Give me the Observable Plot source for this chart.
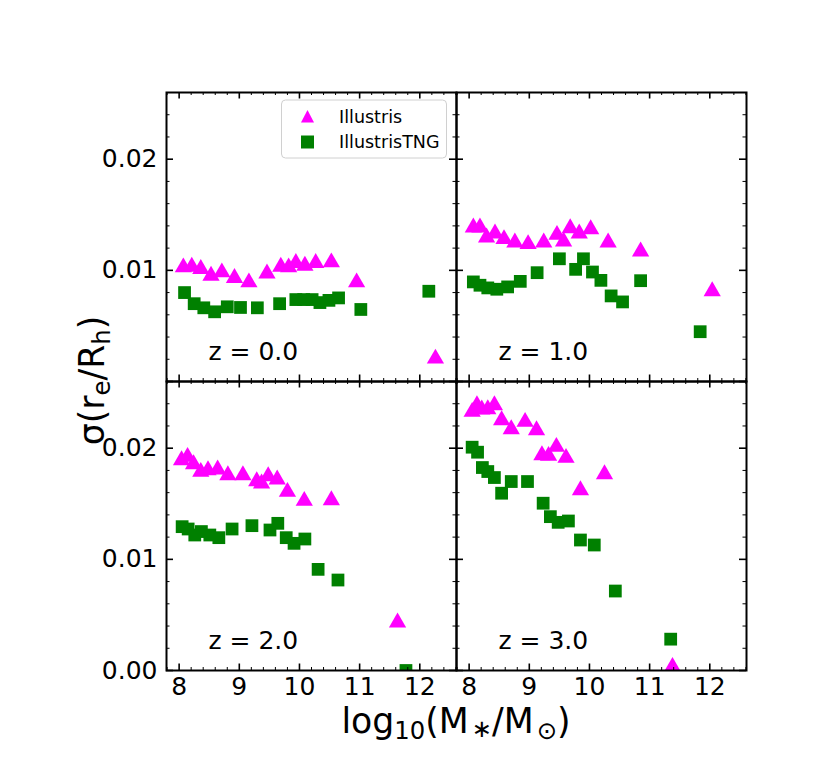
<!DOCTYPE html>
<html><head><meta charset="utf-8">
<script src="https://cdn.jsdelivr.net/npm/d3@7"></script>
<script src="https://cdn.jsdelivr.net/npm/@observablehq/plot@0.6"></script>
<style>
body{margin:0;background:#fff;}
#chart svg{font-family:"DejaVu Sans";background:#fff;overflow:visible;}
</style>
</head><body><div id="chart"></div>
<script>
// ---- data ----
const redshifts = ["0.0", "1.0", "2.0", "3.0"];
const seriesNames = ["Illustris", "IllustrisTNG"];
const seriesColors = ["#ff00ff", "#008000"];
const illustrisX = [
  [8.07,8.21,8.36,8.53,8.71,8.92,9.16,9.46,9.69,9.82,9.94,10.09,10.27,10.53,10.95,12.26],
  [8.07,8.18,8.29,8.43,8.58,8.76,8.98,9.24,9.46,9.57,9.68,9.83,10.02,10.31,10.85,12.04],
  [8.04,8.14,8.24,8.36,8.48,8.64,8.81,9.06,9.29,9.37,9.48,9.63,9.80,10.08,10.53,11.63],
  [8.05,8.13,8.21,8.31,8.42,8.54,8.70,8.93,9.12,9.21,9.32,9.45,9.61,9.85,10.25,11.38]
];
const illustrisY = [
  [0.01045,0.0105,0.0103,0.0097,0.0100,0.0095,0.0091,0.0099,0.0105,0.01045,0.01084,0.0106,0.01084,0.0109,0.0091,0.00224],
  [0.01403,0.01403,0.01313,0.01349,0.01299,0.01269,0.01254,0.01269,0.01337,0.01278,0.01397,0.01349,0.01388,0.01269,0.01188,0.0083],
  [0.0191,0.0194,0.01874,0.01805,0.0182,0.01826,0.01775,0.01775,0.01721,0.0170,0.01766,0.01736,0.01625,0.01544,0.0155,0.0045],
  [0.02345,0.02405,0.02366,0.02369,0.02405,0.0227,0.02189,0.02255,0.0218,0.01955,0.01949,0.0203,0.01931,0.0164,0.01784,0.0005]
];
const tngX = [
  [8.09,8.25,8.41,8.59,8.80,9.02,9.30,9.67,9.94,10.07,10.21,10.34,10.49,10.65,11.02,12.15],
  [8.07,8.18,8.31,8.46,8.64,8.85,9.13,9.50,9.77,9.90,10.05,10.19,10.36,10.55,10.85,11.84],
  [8.05,8.15,8.26,8.37,8.51,8.66,8.88,9.21,9.51,9.64,9.78,9.91,10.09,10.31,10.64,11.77],
  [8.05,8.14,8.22,8.31,8.42,8.54,8.70,8.97,9.23,9.35,9.48,9.65,9.85,10.08,10.43,11.35]
];
const tngY = [
  [0.0080,0.0070,0.00663,0.00627,0.00672,0.00666,0.00663,0.0070,0.00737,0.00737,0.00737,0.0071,0.0073,0.00752,0.00648,0.00812],
  [0.00896,0.00866,0.00842,0.0083,0.00851,0.00901,0.00979,0.01104,0.01009,0.01104,0.00985,0.0091,0.0077,0.00716,0.00907,0.00448],
  [0.01294,0.01273,0.01219,0.0125,0.01219,0.01195,0.01273,0.01303,0.01264,0.01324,0.01195,0.01144,0.01183,0.0091,0.00814,0.0],
  [0.02009,0.01964,0.01826,0.0179,0.01736,0.01595,0.017,0.017,0.01505,0.01384,0.01333,0.01345,0.01174,0.01129,0.00715,0.00282]
];
const xTicks = [8, 9, 10, 11, 12];
const yTicks = [0.01, 0.02];
const yTicksBottomOnly = [0.00];
const xDomain = [7.79, 12.61];
const yDomain = [0, 0.026];

// ---- layout ----
const W = 830, H = 767, mL = 166, mR = 84, mT = 91, mB = 97;
const fw = (W - mL - mR) / 2, fh = (H - mT - mB) / 2;
const tickFont = 25;

const rows = [];
redshifts.forEach((z, i) => {
  const col = i % 2, row = Math.floor(i / 2);
  illustrisX[i].forEach((x, j) => rows.push({series: seriesNames[0], col, row, x, y: illustrisY[i][j]}));
  tngX[i].forEach((x, j) => rows.push({series: seriesNames[1], col, row, x, y: tngY[i][j]}));
});
const panels = redshifts.map((z, i) => ({z, col: i % 2, row: Math.floor(i / 2)}));

const xScaleTicks = d3.scaleLinear().domain(xDomain);
const minorX = xScaleTicks.ticks(25).filter(v => !xTicks.includes(v));
const yScaleTicks = d3.scaleLinear().domain(yDomain);
const majorYAll = yScaleTicks.ticks(3);
const minorY = yScaleTicks.ticks(13).filter(v => !majorYAll.some(m => Math.abs(m - v) < 1e-9));

const fmtY = d3.format(".2f");

const chart = Plot.plot({
  width: W, height: H,
  marginLeft: mL, marginRight: mR, marginTop: mT, marginBottom: mB,
  style: {fontFamily: "DejaVu Sans", background: "#fff", color: "#000"},
  x: {domain: xDomain},
  y: {domain: yDomain},
  fx: {domain: [0, 1], padding: 0, axis: null},
  fy: {domain: [0, 1], padding: 0, axis: null},
  marks: [
    Plot.dot(rows.filter(d => d.series === seriesNames[0]), {
      x: "x", y: "y", fx: "col", fy: "row", symbol: "triangle", r: 6.4, dy: 2,
      fill: seriesColors[0], stroke: "none", clip: true
    }),
    Plot.dot(rows.filter(d => d.series === seriesNames[1]), {
      x: "x", y: "y", fx: "col", fy: "row", symbol: "square", r: 7.2,
      fill: seriesColors[1], stroke: "none", clip: true
    }),
    // inward tick marks on all four sides
    Plot.tickX(xTicks, {x: d => d, insetTop: fh - 7, stroke: "#000", strokeWidth: 1.6}),
    Plot.tickX(xTicks, {x: d => d, insetBottom: fh - 7, stroke: "#000", strokeWidth: 1.6}),
    Plot.tickX(minorX, {x: d => d, insetTop: fh - 3.5, stroke: "#000", strokeWidth: 1}),
    Plot.tickX(minorX, {x: d => d, insetBottom: fh - 3.5, stroke: "#000", strokeWidth: 1}),
    Plot.tickY(majorYAll, {y: d => d, insetRight: fw - 7, stroke: "#000", strokeWidth: 1.6}),
    Plot.tickY(majorYAll, {y: d => d, insetLeft: fw - 7, stroke: "#000", strokeWidth: 1.6}),
    Plot.tickY(minorY, {y: d => d, insetRight: fw - 3.5, stroke: "#000", strokeWidth: 1}),
    Plot.tickY(minorY, {y: d => d, insetLeft: fw - 3.5, stroke: "#000", strokeWidth: 1}),
    Plot.frame({stroke: "#000", strokeWidth: 2}),
    Plot.axisX(xTicks, {tickSize: 0, tickPadding: 7, fontSize: tickFont, label: null, tickFormat: d => String(d)}),
    Plot.axisY(yTicks, {tickSize: 0, tickPadding: 9, fontSize: tickFont, label: null, tickFormat: fmtY}),
    Plot.text(yTicksBottomOnly, {
      y: d => d, fx: () => 0, fy: () => 1, frameAnchor: "left", dx: -9,
      textAnchor: "end", text: d => fmtY(d), fontSize: tickFont, fill: "#000"
    }),
    Plot.text(panels, {
      fx: "col", fy: "row", text: d => `z = ${d.z}`, frameAnchor: "bottom-left",
      dx: 42, dy: -22, textAnchor: "start", lineAnchor: "bottom", fontSize: 25, fill: "#000"
    })
  ]
});
document.getElementById("chart").appendChild(chart);

const svg = d3.select(chart);

// ---- legend in the top-left panel ----
const legW = 165, legH = 58;
const legX = mL + fw - 9.5 - legW, legY = mT + 9;
const lg = svg.append("g").attr("transform", `translate(${legX},${legY})`);
lg.append("rect").attr("width", legW).attr("height", legH).attr("rx", 4)
  .attr("fill", "#fff").attr("fill-opacity", 0.8).attr("stroke", "#d0d0d0").attr("stroke-width", 1);
const legItems = lg.selectAll("g.item").data(seriesNames).join("g")
  .attr("class", "item")
  .attr("transform", (d, i) => `translate(0,${16.5 + i * 25.5})`);
legItems.append("path")
  .attr("transform", "translate(26,0)")
  .attr("d", (d, i) => i === 0 ? "M0,-6.5L6.5,6L-6.5,6Z" : "M-6.5,-6.5H6.5V6.5H-6.5Z")
  .attr("fill", (d, i) => seriesColors[i]);
legItems.append("text").attr("x", 57.5).attr("dy", "0.35em")
  .attr("text-anchor", "start")
  .style("font-size", "17.5px").attr("fill", "#000").text(d => d);

// ---- axis titles ----
const xl = svg.append("text").attr("x", mL + fw).attr("y", 733)
  .attr("text-anchor", "middle").style("font-size", "34.7px").attr("fill", "#000");
xl.append("tspan").text("log");
xl.append("tspan").attr("dy", 6).style("font-size", "24.3px").text("10");
xl.append("tspan").attr("dy", -6).text("(M");
xl.append("tspan").attr("dy", 4).attr("dx", 3).style("font-size", "24.3px").text("∗");
xl.append("tspan").attr("dy", -4).text("/M");
xl.append("tspan").attr("dy", 6).attr("dx", 3).style("font-size", "24.3px").text("⊙");
xl.append("tspan").attr("dy", -6).text(")");

const yl = svg.append("text").attr("transform", `translate(104,${mT + fh}) rotate(-90)`)
  .attr("text-anchor", "middle").style("font-size", "34.7px").attr("fill", "#000");
yl.append("tspan").text("σ(r");
yl.append("tspan").attr("dy", 6).style("font-size", "24.3px").text("e");
yl.append("tspan").attr("dy", -6).text("/R");
yl.append("tspan").attr("dy", 6).style("font-size", "24.3px").text("h");
yl.append("tspan").attr("dy", -6).text(")");
</script>
</body></html>
